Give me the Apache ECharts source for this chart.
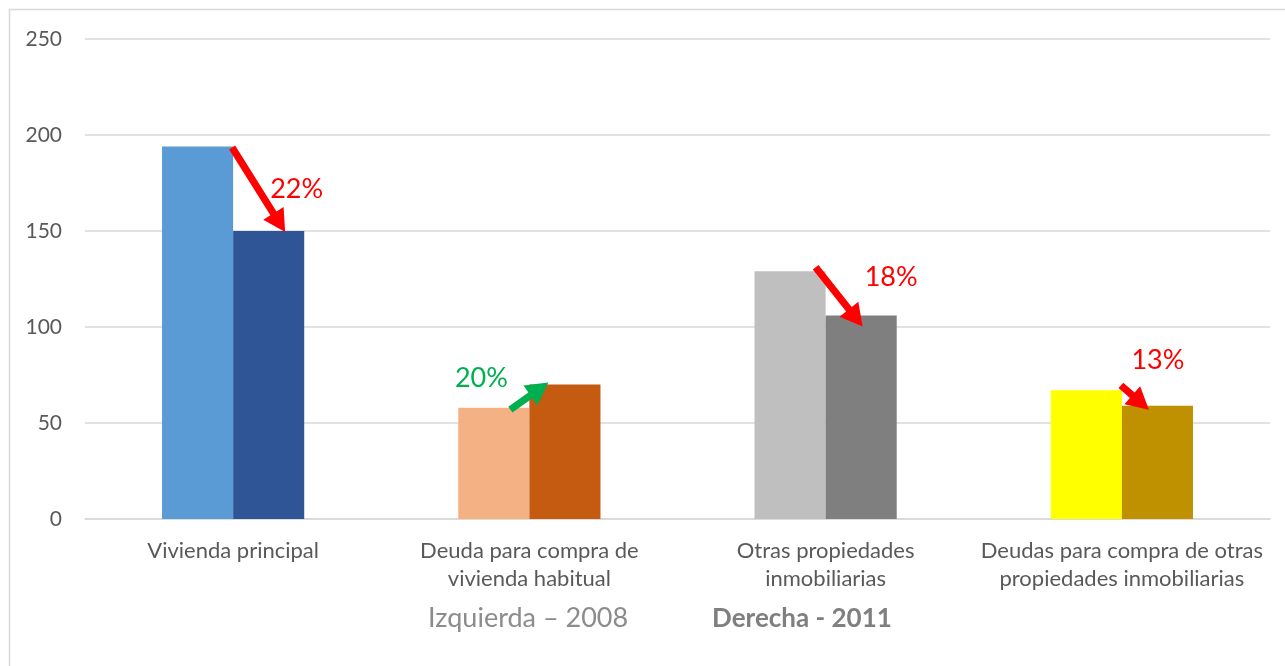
<html>
<head>
<meta charset="utf-8">
<title>Vivienda y deudas 2008 - 2011</title>
<script src="https://cdn.jsdelivr.net/npm/echarts@6/dist/echarts.min.js"></script>
<style>
  body { margin: 0; background: #fff; }
  #main { width: 1285px; height: 666px; }
</style>
</head>
<body>
<div id="main"></div>
<script type="text/javascript">

// categorias del eje x (tal como se ven, con salto de linea)
var categories = [
    'Vivienda principal',
    'Deuda para compra de\nvivienda habitual',
    'Otras propiedades\ninmobiliarias',
    'Deudas para compra de otras\npropiedades inmobiliarias'
];
var yTicks = [0, 50, 100, 150, 200, 250];

// valores
var values2008 = [194, 58, 129, 67];
var values2011 = [150, 70, 106, 59];
var changeLabels = ['22%', '20%', '18%', '13%'];

// colores por categoria
var colors2008 = ['#5B9BD5', '#F4B183', '#BFBFBF', '#FFFF00'];
var colors2011 = ['#2F5597', '#C55A11', '#7F7F7F', '#BF9000'];

var name2008 = 'Izquierda \u2013 2008';
var name2011 = 'Derecha - 2011';

var font = 'Lato, "Open Sans", sans-serif';

// ajuste de la flecha respecto al centro de la categoria / tope de barra (px)
// [dx inicio, dy inicio, dx punta, dy punta]
var arrowTweak = [[-1, 1, 52, 1], [-19, 2, 19, -2], [-10, -4, 37, 11], [-1, -5, 27, 4]];
// donde va la etiqueta % respecto al centro de la flecha (dx, dy en px)
var labelShift = [[38, 0], [-48, -18], [52, -20], [23, -37]];

function colorItems(vals, cols) {
    return vals.map(function (v, i) {
        return { value: v, itemStyle: { color: cols[i] } };
    });
}

var arrowData = values2008.map(function (v, i) {
    return [i, v, values2011[i], changeLabels[i]];
});

function renderArrow(params, api) {
    var i = api.value(0);
    var from = api.value(1);
    var to = api.value(2);
    var up = to > from;
    var t = arrowTweak[params.dataIndex];
    var a = api.coord([i, from]);
    var b = api.coord([i, to]);
    a = [a[0] + t[0], a[1] + t[1]];
    b = [b[0] + t[2], b[1] + t[3]];
    var dx = b[0] - a[0], dy = b[1] - a[1];
    var len = Math.sqrt(dx * dx + dy * dy);
    var ux = dx / len, uy = dy / len;
    var nx = -uy, ny = ux;
    var headL = 22, headW = 12, shaft = 3.6;
    var hb = [b[0] - ux * headL, b[1] - uy * headL];
    var pts = [
        [a[0] + nx * shaft, a[1] + ny * shaft],
        [hb[0] + nx * shaft, hb[1] + ny * shaft],
        [hb[0] + nx * headW, hb[1] + ny * headW],
        b,
        [hb[0] - nx * headW, hb[1] - ny * headW],
        [hb[0] - nx * shaft, hb[1] - ny * shaft],
        [a[0] - nx * shaft, a[1] - ny * shaft]
    ];
    var col = up ? '#00B050' : '#FF0000';
    var sh = labelShift[params.dataIndex];
    return {
        type: 'group',
        children: [
            { type: 'polygon', shape: { points: pts }, style: { fill: col } },
            {
                type: 'text',
                x: (a[0] + b[0]) / 2 + sh[0],
                y: (a[1] + b[1]) / 2 + sh[1],
                style: {
                    text: api.value(3),
                    fill: col,
                    font: '27px ' + font,
                    align: 'center',
                    verticalAlign: 'middle'
                }
            }
        ]
    };
}

var myChart = echarts.init(document.getElementById('main'));

var option = {
    backgroundColor: '#fff',
    animation: false,
    textStyle: { fontFamily: font },
    graphic: [{
        type: 'rect',
        shape: { x: 9.5, y: 9.5, width: 1290, height: 680 },
        style: { fill: 'none', stroke: '#D9D9D9', lineWidth: 1.5 },
        silent: true
    }],
    legend: {
        left: 418,
        top: 600,
        itemWidth: 0,
        itemHeight: 0,
        itemGap: 79,
        selectedMode: false,
        data: [
            { name: name2008, icon: 'none', textStyle: { color: '#8C8C8C', fontSize: 27, fontFamily: font } },
            { name: name2011, icon: 'none', textStyle: { color: '#7F7F7F', fontSize: 26, fontWeight: 'bold', fontFamily: font } }
        ]
    },
    grid: { left: 85, right: 15, top: 39, bottom: 147 },
    xAxis: {
        type: 'category',
        data: categories,
        axisTick: { show: false },
        axisLine: { lineStyle: { color: '#D9D9D9', width: 1.5 } },
        axisLabel: {
            interval: 0,
            margin: 18,
            color: '#595959',
            fontSize: 22,
            lineHeight: 28,
            fontFamily: font
        }
    },
    yAxis: {
        type: 'value',
        min: 0,
        max: yTicks[yTicks.length - 1],
        interval: yTicks[1] - yTicks[0],
        axisLine: { show: false },
        axisTick: { show: false },
        splitLine: { lineStyle: { color: '#D9D9D9', width: 1.5 } },
        axisLabel: { color: '#595959', fontSize: 21, margin: 23, fontFamily: font }
    },
    series: [
        {
            name: name2008,
            type: 'bar',
            barGap: '0%',
            barCategoryGap: '52%',
            data: colorItems(values2008, colors2008),
            itemStyle: { color: '#8C8C8C' }
        },
        {
            name: name2011,
            type: 'bar',
            data: colorItems(values2011, colors2011),
            itemStyle: { color: '#7F7F7F' }
        },
        {
            type: 'custom',
            renderItem: renderArrow,
            data: arrowData,
            z: 10,
            silent: true
        }
    ]
};
myChart.setOption(option);

</script>
</body>
</html>
